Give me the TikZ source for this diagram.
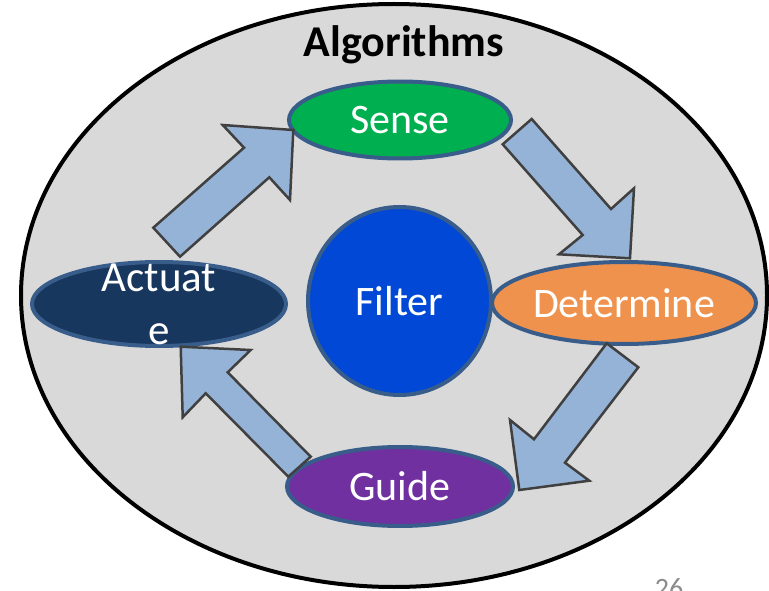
\documentclass[tikz,border=0pt]{standalone}
\usepackage{fontspec}
\setmainfont{Carlito}
\usetikzlibrary{shapes.geometric}
\definecolor{bgray}{HTML}{D9D9D9}
\definecolor{outl}{HTML}{385D8A}
\definecolor{senseg}{HTML}{00B050}
\definecolor{filterb}{HTML}{0048D5}
\definecolor{deto}{HTML}{EF924D}
\definecolor{actn}{HTML}{17375E}
\definecolor{guidep}{HTML}{7030A0}
\definecolor{arrf}{HTML}{95B3D7}
\definecolor{arrd}{HTML}{404040}
\definecolor{numg}{HTML}{8C8C8C}
\tikzset{
  bub/.style={ellipse, draw=outl, line width=4pt, inner sep=0pt, text=white,
    font=\fontsize{42}{50}\selectfont},
  blockarrow/.style={fill=arrf, draw=arrd, line width=2.5pt, line join=miter},
}
\begin{document}
\begin{tikzpicture}[x=1pt,y=-1pt]
\useasboundingbox (0,0) rectangle (769,591);
% outer container
\node[ellipse, draw=black, fill=bgray, line width=4pt, minimum width=746pt,
  minimum height=583pt, inner sep=0pt] (outer) at (394,295.5) {};
\node[anchor=base, font=\bfseries\fontsize{44}{50}\selectfont] (title) at (404,56.7) {Algorithms};
% stages
\node[bub, fill=senseg, minimum width=222pt, minimum height=77pt] (sense) at (400,120) {Sense};
\node[bub, fill=filterb, minimum width=183pt, minimum height=188pt] (filter) at (399.5,301) {Filter};
\node[bub, fill=deto, minimum width=264pt, minimum height=82pt] (determine) at (624,303) {Determine};
\node[bub, fill=actn, minimum width=254pt, minimum height=84pt,
  label={[text=white, align=center, inner sep=0pt,
    font=\fontsize{43}{53}\selectfont]center:Actuat\\e}] (actuate) at (159,304) {};
\node[bub, fill=guidep, minimum width=226pt, minimum height=79pt] (guide) at (400,486.5) {Guide};
% block arrows
\draw[blockarrow] (153.3,227.7) -- (244,147.7) -- (222.7,125) -- (293.3,130)
  -- (290,200) -- (269.3,177.3) -- (180,256.7) -- cycle;
\draw[blockarrow] (531.7,119) -- (611,209) -- (634,188.3) -- (630,258.3)
  -- (559,254.3) -- (582.7,235) -- (502.7,144.3) -- cycle;
\draw[blockarrow] (606.7,343.3) -- (638.3,367.3) -- (565,462.7) -- (589.3,480.7)
  -- (519.3,490) -- (510,420) -- (534,439.3) -- cycle;
\draw[blockarrow] (180.7,346.7) -- (250.7,350) -- (227.7,372.3) -- (310.7,456.7)
  -- (288.3,476.7) -- (205.7,393.3) -- (182.7,417.3) -- cycle;
% slide number (cut off)
\node[anchor=base, text=numg, font=\fontsize{28}{30}\selectfont] (pagenum) at (669,597.5) {26};
\end{tikzpicture}
\end{document}
